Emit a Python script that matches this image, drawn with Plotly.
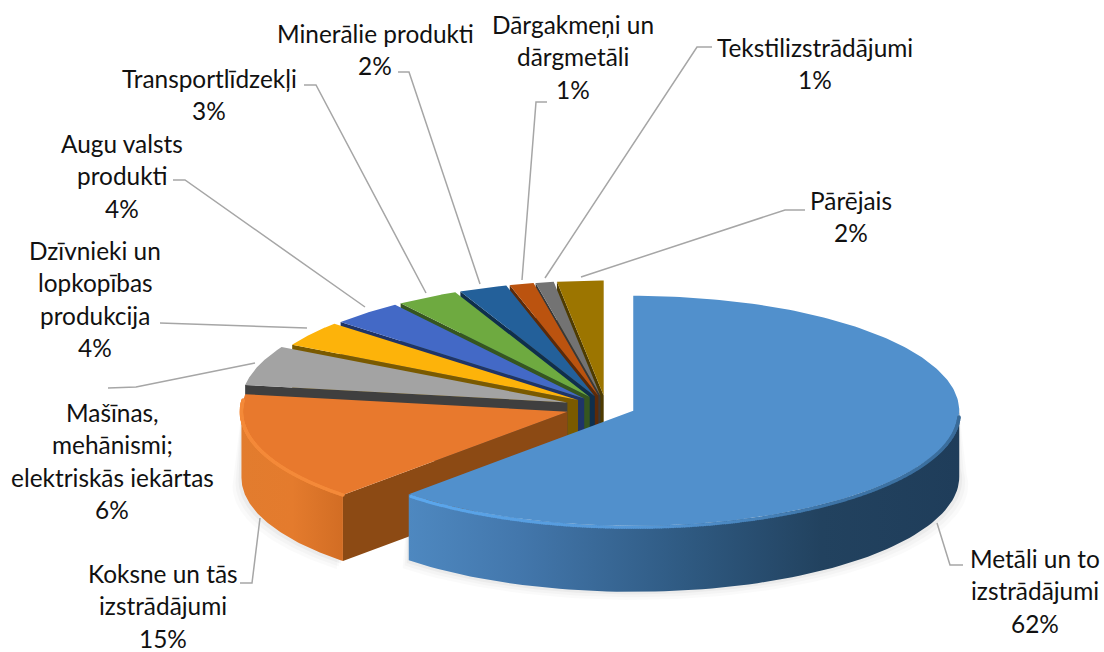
import math
import numpy as np
import plotly.graph_objects as go

# ---------- data ----------
categories = ["Metāli un to izstrādājumi", "Koksne un tās izstrādājumi",
              "Mašīnas, mehānismi; elektriskās iekārtas", "Dzīvnieki un lopkopības produkcija",
              "Augu valsts produkti", "Transportlīdzekļi", "Minerālie produkti",
              "Dārgakmeņi un dārgmetāli", "Tekstilizstrādājumi", "Pārējais"]
values = [62.4, 15.4, 5.6, 3.6, 3.6, 3.1, 2.4, 1.2, 0.9, 2.3]
percent_labels = ["62%", "15%", "6%", "4%", "4%", "3%", "2%", "1%", "1%", "2%"]
label_lines = [["Metāli un to", "izstrādājumi"], ["Koksne un tās", "izstrādājumi"],
               ["Mašīnas,", "mehānismi;", "elektriskās iekārtas"],
               ["Dzīvnieki un", "lopkopības", "produkcija"], ["Augu valsts", "produkti"],
               ["Transportlīdzekļi"], ["Minerālie produkti"], ["Dārgakmeņi un", "dārgmetāli"],
               ["Tekstilizstrādājumi"], ["Pārējais"]]

# ---------- style ----------
top_colors = ["#5190CC", "#E8792D", "#A3A3A3", "#FDB30A", "#4369C6", "#6EAA40",
              "#23609A", "#BB530F", "#737373", "#9C7500"]
wall_colors = ["#2B5580", "#8C4A14", "#3F3F3F", "#7A5A00", "#1F3468", "#36561F",
               "#0F2F4C", "#5C2A08", "#383838", "#4E3B00"]
explode = [0.09, 0.125, 0.125, 0.105, 0.1, 0.1, 0.1, 0.1, 0.1, 0.1]
CX, CY, RX, RY, DEPTH = 606, 407, 326, 115, 66
label_x = [1035, 163, 112, 95, 122, 209, 375, 573, 815, 851]
label_y = [558, 573, 412, 250, 143, 78, 33, 24, 47, 200]
LINE_H = 32.6
leaders = [[(937, 523), (950, 565), (963, 565)], [(240, 583), (252, 583), (260, 518)],
           [(108, 388), (136, 387), (255, 363)], [(160, 323), (307, 328)],
           [(173, 180), (185, 180), (365, 307)], [(304, 85), (316, 85), (426, 293)],
           [(398, 72), (409, 72), (480, 284)], [(547, 102), (536, 102), (522, 280)],
           [(712, 47), (697, 47), (545, 278)], [(805, 210), (785, 210), (581, 277)]]

total = sum(values)
edges = np.cumsum([0] + values) / total * 2 * math.pi


def apex(i):
    mid = (edges[i] + edges[i + 1]) / 2
    e = explode[i]
    return CX + e * RX * math.sin(mid), CY - e * RY * math.cos(mid)


def rim(i, t):
    ax, ay = apex(i)
    return ax + RX * np.sin(t), ay - RY * np.cos(t)


fig = go.Figure()


def poly(xs, ys, color=None, **kw):
    args = dict(x=list(xs), y=list(ys), mode="lines", fill="toself", line=dict(width=0),
                hoverinfo="skip", showlegend=False)
    if color:
        args["fillcolor"] = color
    args.update(kw)
    fig.add_trace(go.Scatter(**args))


def side(i, t0, t1, **kw):
    t = np.linspace(t0, t1, 80)
    x, y = rim(i, t)
    poly(np.r_[x, x[::-1]], np.r_[y, y[::-1] + DEPTH], **kw)


# soft shadows under the front of the two big slices
for grow, a in [(9, 0.018), (6, 0.025), (3, 0.035)]:
    for i, (t0, t1) in [(1, (edges[1], 3 * math.pi / 2)), (0, (math.pi / 2 - 0.1, edges[1]))]:
        t = np.linspace(t0, t1, 80)
        x, y = rim(i, t)
        poly(np.r_[x + grow * np.sin(t), x[::-1]],
             np.r_[y + DEPTH + grow * 0.9, y[::-1]], f"rgba(0,0,0,{a})")

# back-to-front painting of the remaining slices
for i in range(len(values) - 1, 0, -1):
    ax, ay = apex(i)
    xs, ys = rim(i, edges[i])
    # wall on the slice's start edge
    poly([ax, xs, xs, ax], [ay, ys, ys + DEPTH, ay + DEPTH], wall_colors[i])
    t0, t1 = edges[i], edges[i + 1]
    if t0 < 3 * math.pi / 2:
        side(i, t0, min(t1, 3 * math.pi / 2),
             fillgradient=dict(type="horizontal",
                               colorscale=[[0, "#E27C2E"], [0.5, "#E47B2D"], [1, "#D26D24"]]))
    t = np.linspace(t0, t1, 100)
    x, y = rim(i, t)
    poly(np.r_[ax, x], np.r_[ay, y], top_colors[i])

# orange rim highlight
t = np.linspace(edges[1], edges[2] - 0.05, 220)
x, y = rim(1, t)
fig.add_trace(go.Scatter(x=x, y=y, mode="markers", hoverinfo="skip", showlegend=False,
                         marker=dict(size=3.5, color="#F48A3A", line=dict(width=0))))

# main slice: side wall with a left-to-right gradient, then top, then bevel
side(0, math.pi / 2, edges[1],
     fillgradient=dict(type="horizontal",
                       colorscale=[[0, "#4E88C0"], [0.2, "#4377AC"], [0.5, "#2F5A82"],
                                   [0.75, "#22425F"], [1, "#1F3D5A"]]))
ax, ay = apex(0)
t = np.linspace(0, edges[1], 220)
x, y = rim(0, t)
poly(np.r_[ax, x], np.r_[ay, y], top_colors[0])
t = np.linspace(math.pi / 2 + 0.04, edges[1] - 0.01, 320)
x, y = rim(0, t)
fig.add_trace(go.Scatter(x=x, y=y + 1.5, mode="markers", hoverinfo="skip", showlegend=False,
                         marker=dict(size=3.5, color=t, line=dict(width=0),
                                     colorscale=[[0, "#3A6B98"], [0.4, "#3E75A8"],
                                                 [0.65, "#5597D6"], [1, "#5CA8EE"]])))

# leader lines
for pts in leaders:
    fig.add_trace(go.Scatter(x=[p[0] for p in pts], y=[p[1] for p in pts], mode="lines",
                             line=dict(color="#A6A6A6", width=1.5), hoverinfo="skip",
                             showlegend=False))

# labels (one annotation per text line to keep the original leading)
for cat, lines, pct, lx, ly in zip(categories, label_lines, percent_labels, label_x, label_y):
    for k, s in enumerate(lines + [pct]):
        fig.add_annotation(x=lx, y=ly + k * LINE_H, text=s, showarrow=False,
                           xanchor="center", yanchor="middle",
                           font=dict(family="Lato, Carlito, sans-serif", size=24.4, color="#111111"))

fig.update_layout(width=1104, height=652, margin=dict(l=0, r=0, t=0, b=0),
                  paper_bgcolor="white", plot_bgcolor="white",
                  xaxis=dict(range=[0, 1104], visible=False, fixedrange=True),
                  yaxis=dict(range=[652, 0], visible=False, fixedrange=True))
fig.write_html("out.html", config={"displayModeBar": False},
               post_script="document.body.style.margin='0';document.body.style.overflow='hidden';")
